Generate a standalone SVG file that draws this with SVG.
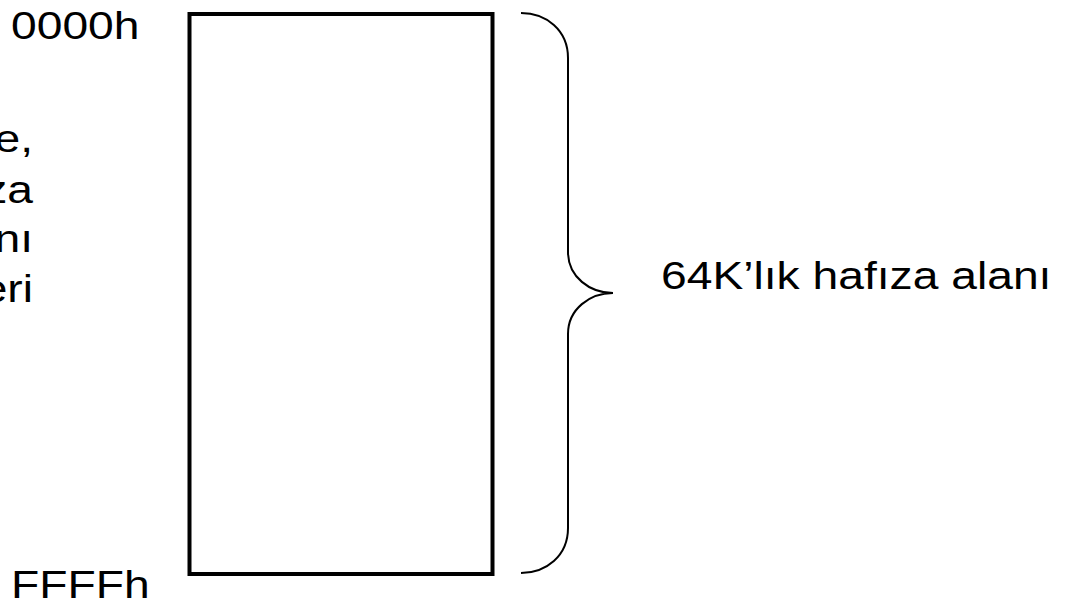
<svg xmlns="http://www.w3.org/2000/svg" width="1073" height="602" viewBox="0 0 1073 602">
  <style>
    .lbl { font-family: "Liberation Sans", Arial, sans-serif; font-size: 39px; fill: #000; }
    .end { text-anchor: end; }
    .box { fill: #fff; stroke: #000; stroke-width: 4; }
    .brace { fill: none; stroke: #000; stroke-width: 2; }
  </style>
  <rect width="1073" height="602" fill="#fff"/>

  <!-- memory block -->
  <g id="memory">
    <rect class="box" x="189.5" y="14" width="303" height="560"/>
  </g>

  <!-- curly brace spanning the block -->
  <g id="connectors">
    <path class="brace" d="M521,13 C546,13 568,30 568,58 V252 C568,277 590,293 613,293 C590,293 568,309 568,334 V528 C568,556 546,573 521,573"/>
  </g>

  <!-- address labels -->
  <g id="addr-start">
    <text class="lbl" transform="translate(11,39) scale(1.185,1)">0000h</text>
  </g>
  <g id="addr-end">
    <text class="lbl" transform="translate(11,598) scale(1.185,1)">FFFFh</text>
  </g>

  <!-- size label -->
  <g id="size-label">
    <text class="lbl" transform="translate(661,289) scale(1.185,1)">64K’lık hafıza alanı</text>
  </g>

  <!-- description text running off the left edge -->
  <g id="description">
    <text class="lbl end" transform="translate(33,152) scale(1.185,1)">e,</text>
    <text class="lbl end" transform="translate(33,203) scale(1.185,1)">za</text>
    <text class="lbl end" transform="translate(33,252) scale(1.185,1)">nı</text>
    <text class="lbl end" transform="translate(33,302) scale(1.185,1)">eri</text>
  </g>
</svg>
